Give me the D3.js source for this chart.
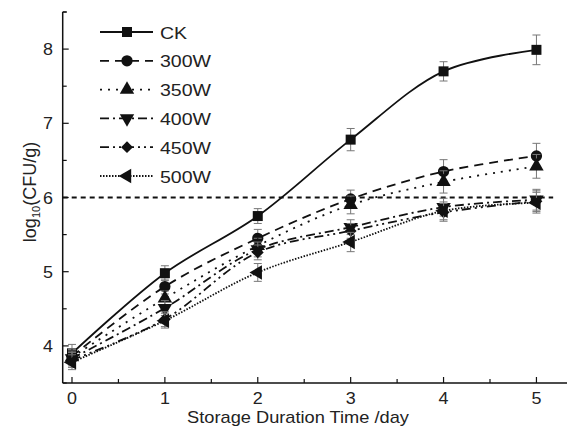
<!DOCTYPE html>
<html><head><meta charset="utf-8">
<script src="https://cdn.jsdelivr.net/npm/d3@7"></script>
<style>body{margin:0;background:#fff}svg{display:block;font-family:Arial,"Liberation Sans",sans-serif}</style>
</head><body><svg id="c" width="567" height="435"></svg>
<script>
const days = [0, 1, 2, 3, 4, 5];
const seriesNames = ["CK", "300W", "350W", "400W", "450W", "500W"];
const ck   = [3.90, 4.98, 5.75, 6.78, 7.70, 7.99];
const w300 = [3.86, 4.80, 5.45, 5.98, 6.35, 6.56];
const w350 = [3.85, 4.64, 5.35, 5.90, 6.21, 6.42];
const w400 = [3.83, 4.51, 5.30, 5.60, 5.87, 5.97];
const w450 = [3.81, 4.36, 5.26, 5.55, 5.80, 5.95];
const w500 = [3.78, 4.34, 4.99, 5.40, 5.82, 5.93];
const errCk   = [0.12, 0.10, 0.10, 0.15, 0.13, 0.20];
const err300  = [0.10, 0.10, 0.12, 0.12, 0.16, 0.17];
const err350  = [0.10, 0.10, 0.10, 0.12, 0.15, 0.16];
const err400  = [0.10, 0.10, 0.10, 0.10, 0.12, 0.14];
const err450  = [0.10, 0.10, 0.10, 0.10, 0.12, 0.14];
const err500  = [0.10, 0.10, 0.12, 0.13, 0.12, 0.14];
const yTicks = [4, 5, 6, 7, 8];
const xTicks = [0, 1, 2, 3, 4, 5];
const threshold = 6;

const values = [ck, w300, w350, w400, w450, w500];
const errs = [errCk, err300, err350, err400, err450, err500];
const dashes = [null, "9,6", "2,6", "9,4,2,4", "9,4,2,4,2,4", "1.5,1.5"];
const symbols = [d3.symbolSquare, d3.symbolCircle, d3.symbolTriangle, d3.symbolTriangle, d3.symbolSquare, d3.symbolTriangle];
const rotations = [0, 0, 0, 180, 45, -90];
const symSizes = [100, 100, 90, 90, 70, 90];

const svg = d3.select("#c");
const x = d3.scaleLinear().domain([-0.1, 5.4]).range([62.7, 573.6]);
const y = d3.scaleLinear().domain([3.5, 8.5]).range([383, 12]);

function stretchedText(parent, tx, ty, str, size, sx, anchor) {
  return parent.append("text")
    .attr("transform", `translate(${tx},${ty}) scale(${sx},1)`)
    .attr("text-anchor", anchor).attr("font-size", size).attr("fill", "#222").text(str);
}

// axes
const g = svg.append("g");
g.append("line").attr("x1", x(-0.1)).attr("x2", 567).attr("y1", y(3.5)).attr("y2", y(3.5)).attr("stroke", "#111").attr("stroke-width", 1.5);
g.append("line").attr("x1", x(-0.1)).attr("x2", x(-0.1)).attr("y1", y(3.5)).attr("y2", y(8.5)).attr("stroke", "#111").attr("stroke-width", 1.5);
g.append("line").attr("x1", x(-0.1)).attr("x2", x(-0.1) + 4).attr("y1", y(8.5)).attr("y2", y(8.5)).attr("stroke", "#111").attr("stroke-width", 1.2);
d3.range(0, 5.51, 0.5).forEach(v => {
  const major = Math.abs(v - Math.round(v)) < 1e-6;
  g.append("line").attr("x1", x(v)).attr("x2", x(v)).attr("y1", y(3.5)).attr("y2", y(3.5) - (major ? 6 : 4)).attr("stroke", "#111").attr("stroke-width", 1.2);
});
xTicks.forEach(v => stretchedText(g, x(v), 404, v, 16, 1.12, "middle"));
d3.range(3.5, 8.51, 0.5).forEach(v => {
  const major = Math.abs(v - Math.round(v)) < 1e-6;
  g.append("line").attr("x1", x(-0.1)).attr("x2", x(-0.1) + (major ? 6 : 4)).attr("y1", y(v)).attr("y2", y(v)).attr("stroke", "#111").attr("stroke-width", 1.2);
});
yTicks.forEach(v => stretchedText(g, 53, y(v) + 6, v, 16, 1.12, "end"));

// axis titles
stretchedText(svg, 298, 423, "Storage Duration Time /day", 16, 1.14, "middle");
const yl = svg.append("text").attr("transform", "translate(36,192) rotate(-90)").attr("text-anchor", "middle").attr("font-size", 18).attr("fill", "#222");
yl.append("tspan").text("log");
yl.append("tspan").attr("font-size", 11).attr("dy", 4).text("10");
yl.append("tspan").attr("dy", -4).text("(CFU/g)");

// threshold line
svg.append("line").attr("x1", x(-0.1)).attr("x2", x(5.18)).attr("y1", y(threshold)).attr("y2", y(threshold)).attr("stroke", "#111").attr("stroke-width", 2).attr("stroke-dasharray", "5,4");

const line = d3.line().x(d => x(d[0])).y(d => y(d[1])).curve(d3.curveCatmullRom.alpha(0.5));

values.forEach((vals, i) => {
  const pts = days.map((d, j) => [d, vals[j], errs[i][j]]);
  svg.append("path").datum(pts).attr("d", line).attr("fill", "none").attr("stroke", "#111").attr("stroke-width", 1.8).attr("stroke-dasharray", dashes[i]);
  const eb = svg.append("g").attr("stroke", "#777").attr("stroke-width", 1);
  pts.forEach(p => {
    eb.append("line").attr("x1", x(p[0])).attr("x2", x(p[0])).attr("y1", y(p[1] - p[2])).attr("y2", y(p[1] + p[2]));
    [p[1] - p[2], p[1] + p[2]].forEach(v => eb.append("line").attr("x1", x(p[0]) - 4).attr("x2", x(p[0]) + 4).attr("y1", y(v)).attr("y2", y(v)));
  });
  const sym = d3.symbol().type(symbols[i]).size(symSizes[i]);
  pts.forEach(p => {
    svg.append("path").attr("d", sym).attr("transform", `translate(${x(p[0])},${y(p[1])}) rotate(${rotations[i]})`).attr("fill", "#111");
  });
});

// legend
const lg = svg.append("g");
seriesNames.forEach((name, i) => {
  const yy = 32 + i * 28.8;
  lg.append("line").attr("x1", 100).attr("x2", 153).attr("y1", yy).attr("y2", yy).attr("stroke", "#111").attr("stroke-width", 1.8).attr("stroke-dasharray", dashes[i]);
  lg.append("path").attr("d", d3.symbol().type(symbols[i]).size(symSizes[i])).attr("transform", `translate(127,${yy}) rotate(${rotations[i]})`).attr("fill", "#111");
  stretchedText(lg, 160, yy + 6.5, name, 17, 1.15, "start");
});
</script></body></html>
